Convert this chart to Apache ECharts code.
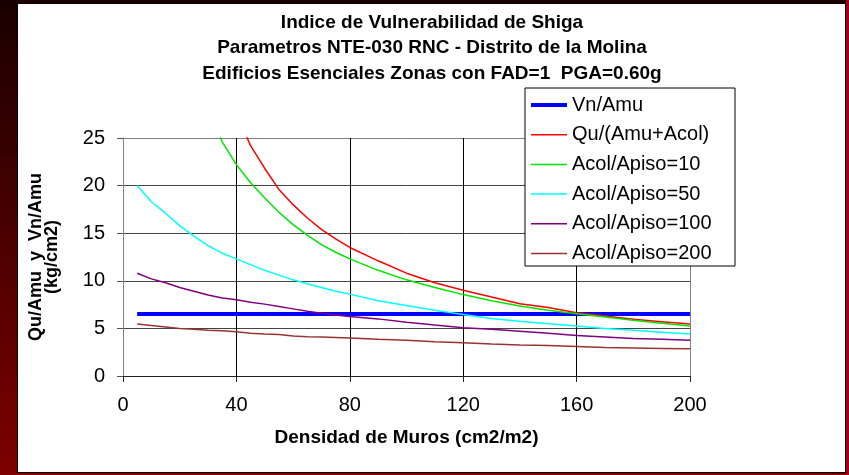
<!DOCTYPE html>
<html>
<head>
<meta charset="utf-8">
<script src="https://cdn.jsdelivr.net/npm/echarts@6/dist/echarts.min.js"></script>
<style>
  html, body { margin: 0; padding: 0; }
  body {
    width: 849px; height: 475px; overflow: hidden; position: relative;
    background: linear-gradient(to bottom, #1a0000, #7e0000);
  }
  #strip_right { position: absolute; left: 846px; top: 0; width: 3px; height: 475px; background: #a00018; }
  #panel {
    position: absolute; left: 17px; top: 3px; width: 827px; height: 468px;
    background: #fff; border: 1px solid #000;
  }
  #chart { position: absolute; left: 0; top: 0; width: 849px; height: 475px; }
</style>
</head>
<body>
<div id="strip_right"></div>
<div id="panel"></div>
<div id="chart"></div>
<script>
// densidad de muros (cm2/m2)
var densidad = [5, 10, 15, 20, 25, 30, 35, 40, 45, 50, 55, 60, 65, 70, 75, 80,
  90, 100, 110, 120, 130, 140, 150, 160, 170, 180, 190, 200];

var vnAmu = [6.5, 6.5, 6.5, 6.5, 6.5, 6.5, 6.5, 6.5, 6.5, 6.5, 6.5, 6.5, 6.5, 6.5,
  6.5, 6.5, 6.5, 6.5, 6.5, 6.5, 6.5, 6.5, 6.5, 6.5, 6.5, 6.5, 6.5, 6.5];
var quAmuAcol = [null, null, null, null, null, null, null, 27.5, 24.2, 21.8, 19.6, 18.0,
  16.6, 15.4, 14.4, 13.5, 12.1, 10.8, 9.8, 9.0, 8.3, 7.6, 7.2, 6.65, 6.3, 5.95, 5.7, 5.45];
var apiso10 = [null, null, null, null, null, 28.5, 24.6, 22.2, 20.3, 18.7, 17.2, 15.9,
  14.8, 13.8, 13.0, 12.3, 11.1, 10.1, 9.3, 8.55, 7.9, 7.35, 6.9, 6.55, 6.2, 5.85, 5.55, 5.25];
var apiso50 = [20.0, 18.3, 17.1, 15.8, 14.7, 13.7, 12.9, 12.3, 11.7, 11.1, 10.6, 10.1,
  9.7, 9.3, 8.9, 8.6, 7.9, 7.4, 6.9, 6.45, 6.05, 5.75, 5.5, 5.25, 5.0, 4.8, 4.6, 4.4];
var apiso100 = [10.8, 10.2, 9.8, 9.3, 8.9, 8.5, 8.2, 8.0, 7.75, 7.55, 7.3, 7.05,
  6.8, 6.6, 6.4, 6.25, 6.0, 5.65, 5.35, 5.07, 4.9, 4.7, 4.5, 4.25, 4.1, 3.95, 3.85, 3.75];
var apiso200 = [5.45, 5.3, 5.15, 5.0, 4.9, 4.8, 4.75, 4.65, 4.5, 4.4, 4.35, 4.2,
  4.12, 4.1, 4.05, 4.0, 3.85, 3.75, 3.6, 3.5, 3.35, 3.25, 3.2, 3.1, 3.0, 2.95, 2.9, 2.85];

var nombres = ['Vn/Amu', 'Qu/(Amu+Acol)', 'Acol/Apiso=10', 'Acol/Apiso=50',
  'Acol/Apiso=100', 'Acol/Apiso=200'];
var valores = [vnAmu, quAmuAcol, apiso10, apiso50, apiso100, apiso200];
var colores = ['#0000ff', '#ff0000', '#00e600', '#00ffff', '#800080', '#993333'];
var anchos = [4, 1.5, 1.5, 1.5, 1.5, 1.5];

function pares(vals) {
  var out = [];
  for (var i = 0; i < densidad.length; i++) {
    out.push([densidad[i], vals[i]]);
  }
  return out;
}

var fuente = '"Liberation Sans", Arial, sans-serif';

var series = [];
var leyenda = [];
for (var i = 0; i < nombres.length; i++) {
  series.push({
    name: nombres[i],
    type: 'line',
    data: pares(valores[i]),
    symbol: 'none',
    connectNulls: false,
    clip: true,
    color: colores[i],
    lineStyle: { color: colores[i], width: anchos[i] }
  });
  // icono de linea sola en la leyenda
  leyenda.push({ name: nombres[i], icon: 'path://M0,0h36v' + anchos[i] + 'h-36z' });
}

var chart = echarts.init(document.getElementById('chart'));
chart.setOption({
  animation: false,
  backgroundColor: 'transparent',
  textStyle: { fontFamily: fuente },
  title: {
    text: 'Indice de Vulnerabilidad de Shiga\nParametros NTE-030 RNC - Distrito de la Molina\nEdificios Esenciales Zonas con FAD=1  PGA=0.60g',
    left: 432,
    top: 10,
    textAlign: 'center',
    padding: 0,
    textStyle: { fontFamily: fuente, fontSize: 19, fontWeight: 'bold', color: '#000', lineHeight: 25.5 }
  },
  grid: { left: 123, right: 159, top: 138, bottom: 99, containLabel: false },
  graphic: [{
    type: 'rect',
    z: 3,
    shape: { x: 525, y: 88, width: 210, height: 178 },
    style: { fill: '#fff', stroke: '#000', lineWidth: 1 }
  }],
  legend: {
    orient: 'vertical',
    left: 531,
    top: 95,
    padding: 0,
    z: 5,
    itemWidth: 36,
    itemHeight: 20,
    itemGap: 9.7,
    data: leyenda,
    textStyle: { fontFamily: fuente, fontSize: 20, lineHeight: 20, color: '#000' }
  },
  xAxis: {
    type: 'value',
    min: 0,
    max: 200,
    interval: 40,
    name: 'Densidad de Muros (cm2/m2)',
    nameLocation: 'middle',
    nameGap: 52,
    nameTextStyle: { fontFamily: fuente, fontSize: 19, fontWeight: 'bold', color: '#000' },
    axisLine: { show: true, onZero: false, lineStyle: { color: '#222', width: 1 } },
    axisTick: { show: true, length: 6, lineStyle: { color: '#222' } },
    axisLabel: { margin: 19, fontSize: 20, color: '#000', fontFamily: fuente },
    splitLine: { show: true, lineStyle: { color: ['#000', '#000', '#000', '#000', '#000', '#808080'], width: 1 } }
  },
  yAxis: {
    type: 'value',
    min: 0,
    max: 25,
    interval: 5,
    name: 'Qu/Amu  y  Vn/Amu\n(kg/cm2)',
    nameLocation: 'middle',
    nameRotate: 90,
    nameGap: 63,
    nameTextStyle: { fontFamily: fuente, fontSize: 18, fontWeight: 'bold', color: '#000', lineHeight: 16 },
    axisLine: { show: true, lineStyle: { color: '#808080', width: 1 } },
    axisTick: { show: true, length: 6, lineStyle: { color: '#555' } },
    axisLabel: { margin: 18, fontSize: 20, color: '#000', fontFamily: fuente },
    splitLine: { show: true, lineStyle: { color: ['#444', '#444', '#444', '#444', '#444', '#808080'], width: 1 } }
  },
  series: series
});
</script>
</body>
</html>
